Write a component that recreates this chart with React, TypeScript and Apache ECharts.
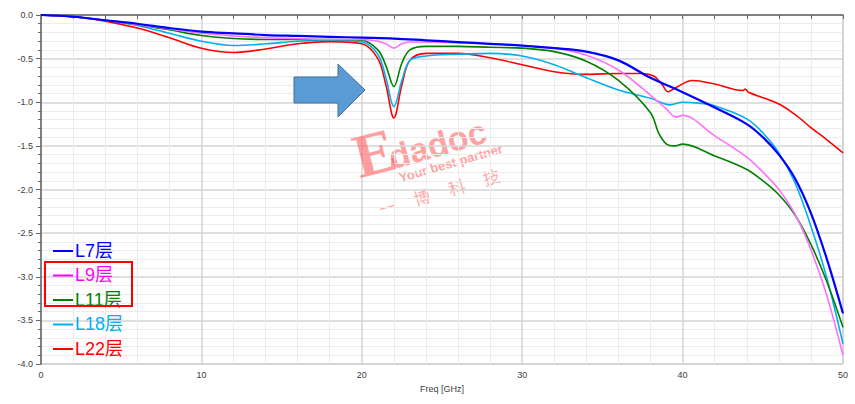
import React, { useEffect, useRef } from "react";
import * as echarts from "echarts";

type P = [number, number];

const seriesNames = ["L7层", "L9层", "L11层", "L18层", "L22层"];
const lineColors = ["#0000FF", "#FF70FF", "#008000", "#00B0F0", "#FF0000"];
const textColors = ["#0000FF", "#FF00FF", "#008000", "#00B0F0", "#FF0000"];
const xTicks = [0, 10, 20, 30, 40, 50];

const L7: P[] = [
  [0, 0], [2, -0.02], [4, -0.06], [6, -0.1], [8, -0.15], [10, -0.19], [12, -0.21], [14, -0.23],
  [16, -0.24], [18, -0.25], [20, -0.26], [22, -0.27], [24, -0.29], [26, -0.31], [28, -0.33],
  [30, -0.35], [32, -0.38], [34, -0.42], [36, -0.52], [38, -0.72], [40, -0.885], [42, -1.06],
  [44, -1.25], [45, -1.4], [46, -1.6], [47, -1.87], [48, -2.27], [49, -2.8], [50, -3.42],
];
const L9: P[] = [
  [0, 0], [2, -0.02], [4, -0.06], [6, -0.11], [8, -0.16], [10, -0.21], [12, -0.24], [14, -0.26],
  [16, -0.27], [18, -0.28], [20, -0.28], [21, -0.3], [21.5, -0.33], [22, -0.38], [22.5, -0.33],
  [23, -0.31], [24, -0.31], [26, -0.32], [28, -0.33], [30, -0.35], [32, -0.38], [34, -0.46],
  [36, -0.63], [38, -0.92], [39, -1.08], [39.6, -1.17], [40, -1.15], [42, -1.385], [44, -1.63],
  [45, -1.8], [46, -2.0], [47, -2.28], [48, -2.69], [49, -3.22], [50, -3.9],
];
const L11: P[] = [
  [0, 0], [2, -0.02], [4, -0.06], [6, -0.11], [8, -0.17], [10, -0.235], [12, -0.27], [14, -0.28],
  [16, -0.28], [18, -0.28], [20, -0.29], [21, -0.4], [21.5, -0.58], [22, -0.82], [22.5, -0.55],
  [23, -0.4], [24, -0.36], [26, -0.36], [28, -0.37], [30, -0.38], [32, -0.42], [34, -0.53],
  [36, -0.75], [38, -1.12], [38.5, -1.35], [39, -1.48], [39.5, -1.5], [40, -1.48], [42, -1.615],
  [44, -1.77], [45, -1.9], [46, -2.06], [47, -2.29], [48, -2.63], [49, -3.06], [50, -3.58],
];
const L18: P[] = [
  [0, 0], [2, -0.02], [4, -0.06], [6, -0.12], [8, -0.21], [10, -0.3], [12, -0.35], [14, -0.33],
  [16, -0.3], [18, -0.29], [20, -0.31], [21, -0.45], [21.5, -0.72], [22, -1.05], [22.5, -0.75],
  [23, -0.52], [24, -0.47], [26, -0.45], [28, -0.44], [30, -0.47], [32, -0.57], [34, -0.72],
  [36, -0.86], [38, -0.955], [39.2, -1.03], [40, -1.0], [41, -1.01], [42, -1.04], [44, -1.19],
  [45, -1.35], [46, -1.58], [47, -1.92], [48, -2.42], [49, -3.02], [50, -3.77],
];
const L22: P[] = [
  [0, 0], [2, -0.02], [4, -0.07], [6, -0.15], [8, -0.26], [10, -0.38], [12, -0.43], [14, -0.39],
  [16, -0.33], [18, -0.305], [20, -0.33], [21, -0.5], [21.5, -0.8], [22, -1.18], [22.5, -0.8],
  [23, -0.52], [24, -0.44], [26, -0.44], [28, -0.49], [30, -0.57], [32, -0.65], [34, -0.68],
  [36, -0.67], [37.5, -0.67], [38.2, -0.7], [38.7, -0.79], [39.1, -0.88], [39.6, -0.83],
  [40.6, -0.75], [42, -0.79], [43.75, -0.865], [43.9, -0.85], [44.1, -0.885], [46, -1.02],
  [47, -1.14], [48, -1.29], [49, -1.43], [50, -1.58],
];
const seriesData = [L7, L9, L11, L18, L22];

export default function App() {
  const ref = useRef<HTMLDivElement>(null);
  useEffect(() => {
    document.body.style.margin = "0";
    const chart = echarts.init(ref.current!, null, { renderer: "svg" });
    const font = "'Liberation Sans', Arial, 'Noto Sans CJK SC', sans-serif";
    const wm = "rgba(255,80,80,0.55)";
    chart.setOption({
      animation: false,
      backgroundColor: "#ffffff",
      grid: {
        left: 41, top: 15, right: 12, bottom: 40,
        show: true, borderColor: "#a6a6a6", borderWidth: 1, backgroundColor: "transparent",
      },
      legend: {
        orient: "vertical",
        left: 53,
        top: 242,
        padding: 0,
        itemGap: 6.5,
        itemWidth: 20,
        itemHeight: 2,
        icon: "rect",
        selectedMode: false,
        textStyle: { fontSize: 18, fontFamily: font, padding: [0, 0, 0, -3] },
        data: seriesNames.map((n, i) => ({
          name: n,
          itemStyle: { color: textColors[i] },
          textStyle: { color: textColors[i] },
        })),
      },
      xAxis: {
        type: "value",
        min: 0,
        max: 50,
        interval: 10,
        name: "Freq [GHz]",
        nameLocation: "middle",
        nameGap: 20,
        nameTextStyle: { fontSize: 9, color: "#404040", fontFamily: font },
        axisLine: { show: true, lineStyle: { color: "#666666", width: 1.5 } },
        axisTick: { show: true, length: 4, lineStyle: { color: "#666666" } },
        minorTick: { show: true, splitNumber: 5, length: 4, lineStyle: { color: "#666666" } },
        axisLabel: {
          fontSize: 9, color: "#404040", fontFamily: font, margin: 6,
          formatter: (v: number) => (xTicks.includes(v) ? String(v) : ""),
        },
        splitLine: { show: true, lineStyle: { color: "#d4d4d4", width: 1.5 } },
        minorSplitLine: { show: true, lineStyle: { color: "#ececec", width: 1 } },
      },
      yAxis: {
        type: "value",
        min: -4,
        max: 0,
        interval: 0.5,
        axisLine: { show: true, onZero: false, lineStyle: { color: "#666666", width: 1.5 } },
        axisTick: { show: true, length: 5, lineStyle: { color: "#666666" } },
        minorTick: { show: true, splitNumber: 5, length: 3, lineStyle: { color: "#666666" } },
        axisLabel: {
          fontSize: 9, color: "#404040", fontFamily: font, margin: 8,
          formatter: (v: number) => v.toFixed(1),
        },
        splitLine: { show: true, lineStyle: { color: "#d4d4d4", width: 1.5 } },
        minorSplitLine: { show: true, lineStyle: { color: "#ececec", width: 1 } },
      },
      series: seriesNames.map((n, i) => ({
        name: n,
        type: "line",
        data: seriesData[i],
        showSymbol: false,
        smooth: 0.35,
        color: lineColors[i],
        lineStyle: { color: lineColors[i], width: i === 0 ? 2.2 : 1.6 },
        z: 10 - i,
      })),
      graphic: [
        {
          type: "polygon",
          shape: {
            points: [[294, 77], [338, 77], [338, 64], [365, 90], [338, 117], [338, 103], [294, 103]],
          },
          style: { fill: "#5B9BD5", stroke: "#41719C", lineWidth: 1 },
          z: 100,
        },
        {
          type: "rect",
          shape: { x: 45, y: 262, width: 87, height: 44 },
          style: { fill: "none", stroke: "#FF0000", lineWidth: 2 },
          z: 100,
        },
        {
          type: "text",
          x: 362, y: 188,
          rotation: 0.25,
          z: 100,
          style: {
            text: "E", fill: wm,
            font: "bold 62px 'Liberation Serif', serif",
            verticalAlign: "bottom",
          },
        },
        {
          type: "group",
          x: 440,
          y: 160,
          rotation: 0.28,
          z: 100,
          children: [
            {
              type: "text",
              x: -48, y: -16,
              style: {
                text: "dadoc", fill: wm,
                font: "bold 34px 'Liberation Sans', sans-serif",
                verticalAlign: "middle",
              },
            },
            {
              type: "text",
              x: -44, y: 6,
              style: {
                text: "Your best partner", fill: wm,
                font: "bold 13px 'Liberation Sans', sans-serif",
                verticalAlign: "middle",
              },
            },
            {
              type: "text",
              x: -72, y: 30,
              style: {
                text: "一     博     科     技", fill: "rgba(255,80,80,0.5)",
                font: "17px 'Noto Sans CJK SC', sans-serif",
                verticalAlign: "middle",
              },
            },
          ],
        },
      ],
    });
    return () => chart.dispose();
  }, []);
  return <div ref={ref} style={{ width: 855, height: 404 }} />;
}
